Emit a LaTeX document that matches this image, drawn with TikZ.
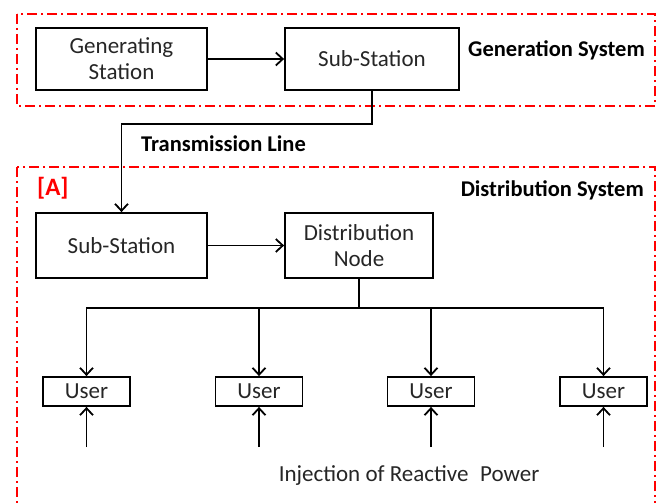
\documentclass[tikz,border=0pt]{standalone}
\usepackage{fontspec}
\setmainfont{Carlito}
\usetikzlibrary{arrows.meta}

\begin{document}
\begin{tikzpicture}[x=1pt, y=-1pt,
  blk/.style={draw, line width=1.8pt, inner sep=0pt, align=center, text=black!85,
              font=\fontsize{23}{26}\selectfont},
  usr/.style={blk, minimum width=87pt, minimum height=29pt},
  zone/.style={draw=red, line width=2pt, dash pattern=on 10pt off 4pt on 2pt off 4pt},
  lbl/.style={font=\bfseries\fontsize{22.5}{26}\selectfont, inner sep=0pt},
  arr/.style={-{Straight Barb[length=7pt,width=13pt]}, line width=1.8pt},
  line/.style={line width=1.8pt}
]
  \useasboundingbox (0,0) rectangle (656,503);

  % Two systems
  \draw[zone] (17,14) rectangle (655,106);
  \draw[zone] (17,167) rectangle (655,520);

  % Generation
  \node[blk, minimum width=171pt, minimum height=62pt] (gen) at (121.5,59) {Generating\\Station};
  \node[blk, minimum width=174pt, minimum height=62pt] (ss1) at (372,59) {Sub-Station};
  \node[lbl, anchor=east] (gsys) at (645,50) {Generation System};

  % Distribution
  \node[blk, minimum width=171pt, minimum height=65pt] (ss2) at (121.5,245.5) {Sub-Station};
  \node[blk, minimum width=148pt, minimum height=65pt] (dn) at (359,245.5) {Distribution\\Node};
  \node[lbl, anchor=east] (dsys) at (644,190) {Distribution System};
  \node[lbl, anchor=west, text=red, font=\bfseries\fontsize{25}{28}\selectfont] (tagA) at (37,188) {[A]};
  \node[lbl, anchor=west] (tline) at (141,144) {Transmission Line};

  \draw[arr] (gen) -- (ss1);
  \coordinate (bend) at (372,124);
  \draw[arr] (ss1.south) -- (bend) -| (ss2.north);
  \draw[arr] (ss2) -- (dn);

  % Users
  \coordinate (bus) at (359,308);
  \draw[line] (dn.south) -- (bus);
  \foreach \x [count=\i] in {86.5,259,431,603.5} {
    \node[usr] (u\i) at (\x,391.5) {User};
    \coordinate (q\i) at (\x,447);
    \draw[arr] (bus) -| (u\i.north);
    \draw[arr] (q\i) -- (u\i.south);
  }
  \node[font=\fontsize{23}{26}\selectfont, text=black!85, inner sep=0pt] (inj) at (409,476)
    {Injection of Reactive\hspace{0.5em}Power};
\end{tikzpicture}
\end{document}
